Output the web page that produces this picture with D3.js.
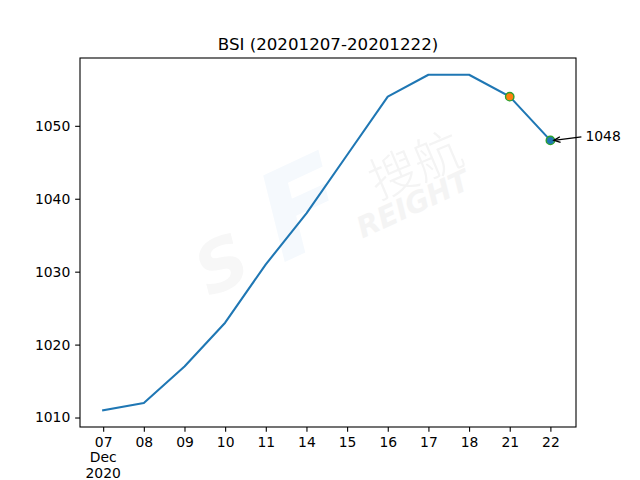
<!DOCTYPE html>
<html><head><meta charset="utf-8">
<script src="https://cdn.jsdelivr.net/npm/d3@7"></script>
<style>body{margin:0;background:#fff}svg{display:block;font-family:"DejaVu Sans",sans-serif}</style>
</head><body>
<script>
const categories = ["07","08","09","10","11","14","15","16","17","18","21","22"];
const values = [1011,1012,1017,1023,1031,1038,1046,1054,1057,1057,1054,1048];
const yTicks = [1010,1020,1030,1040,1050];
const titleText = "BSI (20201207-20201222)";
const highlightIdx = [10, 11];
const annotationText = "1048";

const W=640,H=480, L=80,R=576,T=58,B=427;
const FS=13.9, TL=4.86, TP=4.86;
const svg=d3.select("body").append("svg").attr("width",W).attr("height",H);

const x=d3.scaleLinear().domain([-0.57, categories.length-1+0.63]).range([L,R]);
const ext=d3.extent(values), pad=(ext[1]-ext[0])*0.05;
const y=d3.scaleLinear().domain([ext[0]-pad, ext[1]+pad]).range([B,T]);

// watermark
svg.append("text").attr("transform","translate(222,265) rotate(-25)").attr("text-anchor","middle").attr("dominant-baseline","central")
  .attr("font-size",70).attr("font-weight","bold").attr("font-style","italic").attr("fill","#f7f7f7").text("S");
svg.append("text").attr("transform","translate(302,208) rotate(-25)").attr("text-anchor","middle").attr("dominant-baseline","central")
  .attr("font-size",120).attr("font-weight","bold").attr("font-style","italic").attr("fill","#f5f9fd").text("F");
svg.append("text").attr("transform","translate(414,162) rotate(-23)").attr("text-anchor","middle").attr("dominant-baseline","central")
  .attr("font-size",48).attr("font-weight",300).attr("font-family","Noto Sans CJK SC").attr("fill","#f4f4f4").text("搜航");
svg.append("text").attr("transform","translate(413,204) rotate(-25)").attr("text-anchor","middle").attr("dominant-baseline","central")
  .attr("font-size",29).attr("font-weight","bold").attr("font-style","italic").attr("fill","#f4f4f4").text("REIGHT");

// axes
const xa=svg.append("g").attr("transform",`translate(0,${B})`)
  .call(d3.axisBottom(x).tickValues(d3.range(categories.length)).tickFormat(i=>categories[i]).tickSize(TL).tickPadding(TP));
const ya=svg.append("g").attr("transform",`translate(${L},0)`)
  .call(d3.axisLeft(y).tickValues(yTicks).tickFormat(d3.format("d")).tickSize(TL).tickPadding(TP));
[xa,ya].forEach(a=>{a.select(".domain").remove();a.selectAll("text").attr("font-size",FS).attr("font-family","DejaVu Sans").attr("fill","#000");a.selectAll("line").attr("stroke","#000").attr("stroke-width",1.1);});
const sub=svg.append("g").attr("font-size",FS).attr("font-family","DejaVu Sans").attr("fill","#000").attr("text-anchor","middle");
sub.append("text").attr("x",x(0)).attr("y",457).attr("dominant-baseline","central").text("Dec");
sub.append("text").attr("x",x(0)).attr("y",472.5).attr("dominant-baseline","central").text("2020");

// line
svg.append("path").datum(values).attr("fill","none").attr("stroke","#1f77b4").attr("stroke-width",2.08)
  .attr("stroke-linejoin","round").attr("stroke-linecap","square")
  .attr("d",d3.line().x((d,i)=>x(i)).y(d=>y(d)));

// markers
svg.append("circle").attr("cx",x(highlightIdx[0])).attr("cy",y(values[highlightIdx[0]])).attr("r",4.2).attr("fill","#ff7f0e").attr("stroke","#2ca02c").attr("stroke-width",1.39);
svg.append("circle").attr("cx",x(highlightIdx[1])).attr("cy",y(values[highlightIdx[1]])).attr("r",4.2).attr("fill","#1f77b4").attr("stroke","#2ca02c").attr("stroke-width",1.39);

// annotation
const px=x(highlightIdx[1]), py=y(values[highlightIdx[1]]);
const tx=px+35, ty=py-4.5;
svg.append("text").attr("x",tx).attr("y",ty).attr("font-size",FS).attr("fill","#000").attr("dominant-baseline","central").text(annotationText);
const sx=tx-4, sy=ty+1, ex=px+3.5, ey=py;
svg.append("line").attr("x1",sx).attr("y1",sy).attr("x2",ex).attr("y2",ey).attr("stroke","#000").attr("stroke-width",1.39);
const ang=Math.atan2(sy-ey, sx-ex), hl=7;
svg.append("path").attr("d",`M${ex+hl*Math.cos(ang+0.42)},${ey+hl*Math.sin(ang+0.42)} L${ex},${ey} L${ex+hl*Math.cos(ang-0.42)},${ey+hl*Math.sin(ang-0.42)}`).attr("fill","none").attr("stroke","#000").attr("stroke-width",1.39);

// frame
svg.append("rect").attr("x",L).attr("y",T).attr("width",R-L).attr("height",B-T).attr("fill","none").attr("stroke","#000").attr("stroke-width",1.1);

svg.append("text").attr("x",(L+R)/2).attr("y",T-8).attr("text-anchor","middle").attr("font-size",16.67).attr("fill","#000").text(titleText);
</script>
</body></html>
